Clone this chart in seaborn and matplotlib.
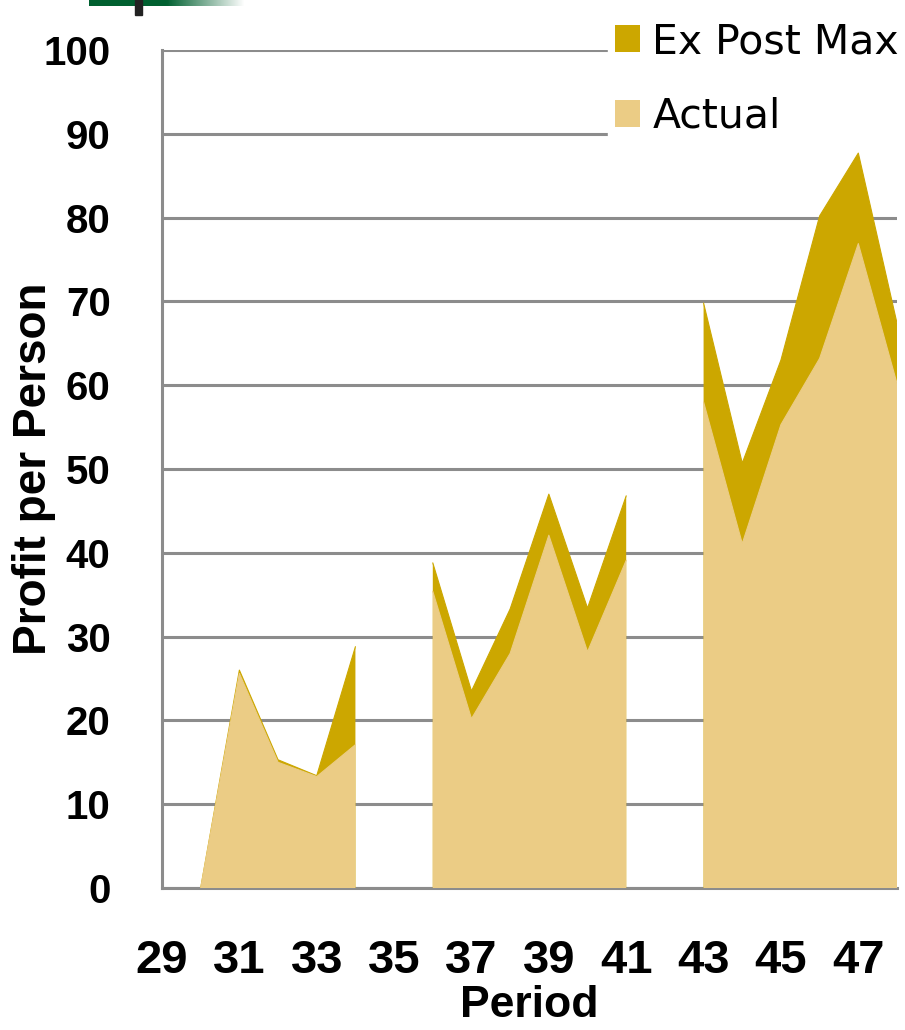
import numpy as np
import pandas as pd
import matplotlib
matplotlib.use("Agg")
import matplotlib.pyplot as plt
import matplotlib.font_manager as fm
from matplotlib.patches import Patch
import seaborn as sns

# data (NaN = no session in that period)
periods = list(range(29, 49))
session = [0, 1, 1, 1, 1, 1, 0, 2, 2, 2, 2, 2, 2, 0, 3, 3, 3, 3, 3, 3]
ex_post_max = [np.nan, 0, 26.0, 15.3, 13.4, 28.8, np.nan,
               38.8, 23.5, 33.3, 47.0, 33.4, 46.8, np.nan,
               69.8, 50.7, 63.0, 80.2, 87.7, 67.4]
actual = [np.nan, 0, 25.6, 15.0, 13.3, 17.1, np.nan,
          35.4, 20.2, 28.0, 42.1, 28.2, 39.1, np.nan,
          58.0, 41.1, 55.3, 63.2, 76.9, 60.2]
series_names = ["Ex Post Max", "Actual"]
colors = ["#CCA700", "#EBCC85"]
ytick_vals = list(range(0, 101, 10))

df = pd.DataFrame({"Period": periods, "Session": session,
                   "Ex Post Max": ex_post_max, "Actual": actual})

sns.set_style("white")
names = {f.name for f in fm.fontManager.ttflist}
bold_font = "Liberation Sans" if "Liberation Sans" in names else "DejaVu Sans"
plt.rcParams['font.family'] = ['DejaVu Sans']
plt.rcParams['text.color'] = 'black'
plt.rcParams['axes.labelcolor'] = 'black'
plt.rcParams['xtick.color'] = 'black'
plt.rcParams['ytick.color'] = 'black'

grey = "#8C8C8C"
fig = plt.figure(figsize=(9.05, 10.30), dpi=100)
ax = fig.add_axes([162 / 905, 1 - 888 / 1030, 735 / 905, 838 / 1030])

for name, col in zip(series_names, colors):
    ax.fill_between(df["Period"], 0, df[name], color=col, linewidth=0, zorder=3)
    sns.lineplot(data=df.dropna(), x="Period", y=name, units="Session", estimator=None,
                 ax=ax, color=col, linewidth=0.8, zorder=3)

ax.set_xlim(29, 48)
ax.set_ylim(0, 100)
ax.set_xticks(periods)
ax.set_xticklabels([str(p) if p % 2 == 1 else "" for p in periods])
ax.set_yticks(ytick_vals)
ax.yaxis.grid(True, color=grey, linewidth=2.2, zorder=0)
ax.set_axisbelow(True)
for s in ["top", "right"]:
    ax.spines[s].set_visible(False)
for s in ["left", "bottom"]:
    ax.spines[s].set_color(grey)
    ax.spines[s].set_linewidth(2.2)
ax.tick_params(axis="both", direction="out", color=grey, labelcolor="black", width=2.2, length=11)
ax.tick_params(axis="y", pad=26)
ax.tick_params(axis="x", pad=26)
for t in ax.get_yticklabels():
    t.set_fontfamily(bold_font)
    t.set_fontweight("bold")
    t.set_fontsize(29)
for t in ax.get_xticklabels():
    t.set_fontfamily(bold_font)
    t.set_fontweight("bold")
    t.set_fontsize(34)

ax.set_xlabel("Period", fontfamily=bold_font, fontweight="bold", fontsize=32, labelpad=1)
ax.set_ylabel("Profit per Person", fontfamily=bold_font, fontweight="bold", fontsize=33)
ax.yaxis.set_label_coords(-0.144, 0.5)

handles = [Patch(facecolor=c, edgecolor="none") for c in colors]
leg = ax.legend(handles, series_names, loc="upper right",
                bbox_to_anchor=(1.0, 1 - 16 / 1030), bbox_transform=fig.transFigure,
                frameon=True, fancybox=False, framealpha=1, edgecolor="white",
                fontsize=29.5, handlelength=0.62, handleheight=0.62,
                handletextpad=0.3, labelspacing=0.85, borderpad=0.15, borderaxespad=0)
leg.set_zorder(5)

# green title-bar remnant at top left
gax = fig.add_axes([89 / 905, 1 - 6 / 1030, 156 / 905, 6 / 1030])
grad = np.linspace(0, 1, 200)
alpha = np.clip(1 - (grad - 0.5) / 0.5, 0, 1)
img = np.zeros((1, 200, 4))
img[..., 1] = 96 / 255
img[..., 2] = 48 / 255
img[..., 3] = alpha
gax.imshow(img, aspect="auto")
gax.axis("off")
fig.patches.append(plt.Rectangle((135 / 905, 1 - 15 / 1030), 7 / 905, 15 / 1030,
                                 transform=fig.transFigure, color="#222222", zorder=6))

fig.savefig("out.png", dpi=100)
